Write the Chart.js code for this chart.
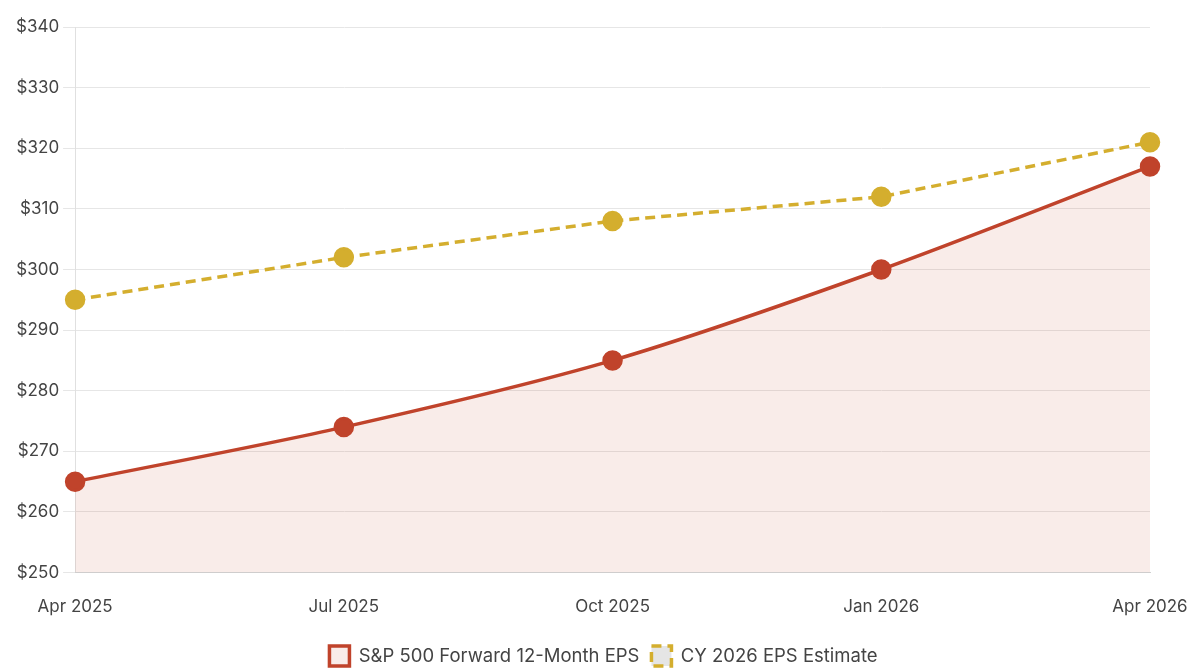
<!DOCTYPE html>
<html lang="en">
<head>
  <meta charset="UTF-8" />
  <title>S&P 500 EPS</title>
  <style>
    html, body { margin: 0; padding: 0; background: #fff; }
    #wrap { width: 1195px; height: 670px; position: relative; }
  </style>
</head>
<body>
  <div id="wrap"><canvas id="chart"></canvas></div>

  <script src="https://cdn.jsdelivr.net/npm/chart.js"></script>
  <script>
    const labels = ['Apr 2025', 'Jul 2025', 'Oct 2025', 'Jan 2026', 'Apr 2026'];
    const forwardEps = [265, 274, 285, 300, 317];
    const cy2026Eps = [295, 302, 308, 312, 321];

    const font = { family: "Inter, 'Noto Sans', sans-serif", size: 17 };

    // keep the legend strip short so it sits near the bottom edge
    const legendHeight = {
      id: 'legendHeight',
      beforeInit(chart) {
        const fit = chart.legend.fit;
        chart.legend.fit = function () {
          fit.call(this);
          this.height = 36;
        };
      }
    };

    const ctx = document.getElementById('chart').getContext('2d');
    const chart = new Chart(ctx, {
      type: 'line',
      data: {
        labels: labels,
        datasets: [
          {
            label: 'S&P 500 Forward 12-Month EPS',
            data: forwardEps,
            borderColor: '#c0432b',
            backgroundColor: 'rgba(192, 67, 43, 0.1)',
            pointBackgroundColor: '#c0432b',
            pointBorderColor: '#c0432b',
            fill: 'origin',
            tension: 0.3,
            borderWidth: 3.5,
            pointRadius: 8.5
          },
          {
            label: 'CY 2026 EPS Estimate',
            data: cy2026Eps,
            borderColor: '#d4ae2e',
            backgroundColor: 'rgba(0, 0, 0, 0.1)',
            pointBackgroundColor: '#d4ae2e',
            pointBorderColor: '#d4ae2e',
            borderDash: [10, 6],
            fill: false,
            tension: 0,
            borderWidth: 3.5,
            pointRadius: 8.5
          }
        ]
      },
      options: {
        responsive: true,
        maintainAspectRatio: false,
        animation: false,
        layout: { padding: { left: 12, right: 0, top: 27, bottom: 0 } },
        plugins: {
          legend: {
            position: 'bottom',
            labels: {
              color: '#444',
              font: { family: font.family, size: 18.5 },
              boxWidth: 20,
              boxHeight: 20,
              padding: 12
            }
          },
          tooltip: { enabled: false }
        },
        scales: {
          y: {
            min: 250,
            max: 340,
            ticks: {
              stepSize: 10,
              color: '#444',
              font: font,
              padding: 4,
              callback: v => '$' + v
            },
            grid: { color: '#e6e6e6', tickLength: 12 },
            border: { color: '#e0e0e0' }
          },
          x: {
            offset: false,
            ticks: { color: '#444', font: font, padding: 16, maxRotation: 0 },
            grid: { display: false },
            border: { color: '#d0d0d0' },
            afterFit: scale => {
              scale.height += 1;
              scale.paddingRight = 45;
            }
          }
        }
      },
      plugins: [legendHeight]
    });
  </script>
</body>
</html>
